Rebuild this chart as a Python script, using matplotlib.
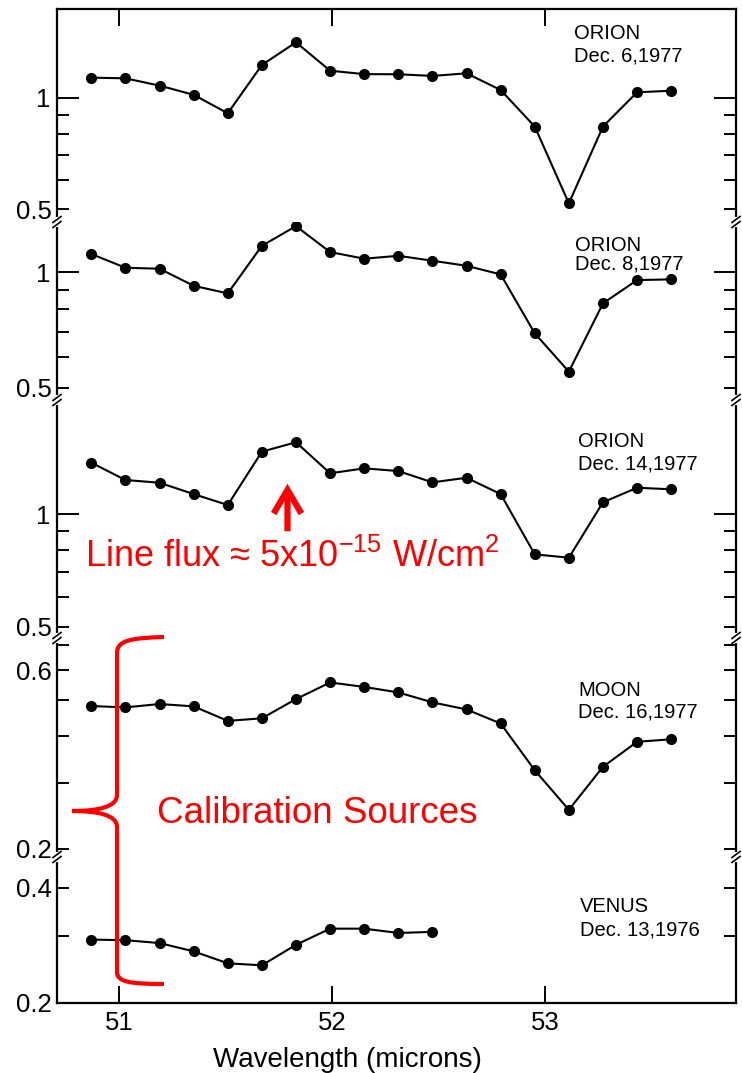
import matplotlib
matplotlib.use("Agg")
import matplotlib.pyplot as plt
from matplotlib.lines import Line2D
from matplotlib.path import Path
from matplotlib.patches import PathPatch, FancyArrowPatch
from matplotlib.transforms import Affine2D

plt.rcParams['font.family'] = ['Liberation Sans', 'DejaVu Sans']
plt.rcParams['mathtext.default'] = 'regular'

# wavelength of each grating step (microns)
wavelength = [50.87, 51.03, 51.19, 51.35, 51.51, 51.67, 51.83, 51.99, 52.15,
              52.31, 52.47, 52.63, 52.79, 52.95, 53.11, 53.27, 53.43, 53.59]

orion_dec6 = [1.135, 1.13, 1.08, 1.02, 0.909, 1.228, 1.414, 1.185, 1.16,
              1.159, 1.147, 1.166, 1.051, 0.837, 0.519, 0.837, 1.036, 1.046]
orion_dec8 = [1.114, 1.026, 1.02, 0.921, 0.88, 1.17, 1.316, 1.127, 1.083,
              1.102, 1.07, 1.038, 0.986, 0.693, 0.551, 0.829, 0.953, 0.957]
orion_dec14 = [1.375, 1.236, 1.215, 1.133, 1.059, 1.472, 1.56, 1.288, 1.328,
               1.306, 1.218, 1.253, 1.133, 0.781, 0.765, 1.077, 1.178, 1.167]
moon_dec16 = [0.481, 0.477, 0.487, 0.480, 0.439, 0.446, 0.502, 0.556, 0.541,
              0.523, 0.492, 0.471, 0.432, 0.324, 0.254, 0.331, 0.386, 0.392]
venus_dec13 = [0.293, 0.292, 0.287, 0.273, 0.254, 0.251, 0.284, 0.313, 0.313,
               0.305, 0.307]

series = [orion_dec6, orion_dec8, orion_dec14, moon_dec16, venus_dec13]
names = ['ORION', 'ORION', 'ORION', 'MOON', 'VENUS']
dates = ['Dec. 6,1977', 'Dec. 8,1977', 'Dec. 14,1977', 'Dec. 16,1977', 'Dec. 13,1976']

ylims = [(0.462, 1.74), (0.465, 1.349), (0.466, 2.025), (0.190, 0.731), (0.2, 0.482)]
minor_ticks = [[0.5, 0.6, 0.7, 0.8, 0.9]] * 3 + [[0.2, 0.3, 0.4, 0.5, 0.6, 0.7], [0.2, 0.3, 0.4]]
minor_labels = [['0.5', '', '', '', '']] * 3 + [['0.2', '', '', '', '0.6', ''], ['0.2', '', '0.4']]
xticks = [51, 52, 53]

W, H = 742, 1073
fig, axes = plt.subplots(5, 1, sharex=True, figsize=(W / 100, H / 100), dpi=100,
                         gridspec_kw={'height_ratios': [213, 178, 238, 219, 146]})
fig.subplots_adjust(left=57 / W, right=736 / W, top=1 - 9 / H, bottom=1 - 1003 / H, hspace=0)

# reference-pixel transform for annotations
T = Affine2D().scale(1 / W, -1 / H).translate(0, 1) + fig.transFigure

for i, ax in enumerate(axes):
    ax.plot(wavelength[:len(series[i])], series[i], color='black', lw=1.5,
            marker='o', markersize=7)
    ax.set_yscale('log')
    ax.set_ylim(*ylims[i])
    ax.set_xlim(50.709, 53.894)
    if i < 3:
        ax.set_yticks([1], labels=['1'])
    else:
        ax.set_yticks([])
    ax.set_yticks(minor_ticks[i], labels=minor_labels[i], minor=True)
    ax.tick_params(axis='y', which='major', direction='in', length=16, width=1.4,
                   left=True, right=True, labelsize=18.5, pad=5)
    ax.tick_params(axis='y', which='minor', direction='in', length=8.5, width=1.4,
                   left=True, right=True, labelsize=18.5, pad=4)
    for s in ['left', 'right', 'top', 'bottom']:
        ax.spines[s].set_linewidth(1.6)
    if i > 0:
        ax.spines['top'].set_visible(False)
    if i < 4:
        ax.spines['bottom'].set_visible(False)
    ax.tick_params(axis='x', which='both', direction='in', length=12, width=1.4,
                   bottom=(i == 4), top=(i == 0), labelbottom=(i == 4),
                   labelsize=18.5, pad=6)
    ax.xaxis.set_minor_locator(plt.NullLocator())

axes[4].set_xticks(xticks, labels=[str(t) for t in xticks])

# source labels
label_x = [574, 575, 578, 578, 580]
name_y = [39, 251, 447, 696, 912]
date_y = [61, 270, 469, 717, 936]
for i in range(5):
    fig.text(label_x[i], name_y[i], names[i], transform=T, fontsize=14.5, va='baseline')
    fig.text(label_x[i], date_y[i], dates[i], transform=T, fontsize=14.5, va='baseline')

fig.text(347.5, 1067, 'Wavelength (microns)', transform=T, fontsize=20,
         ha='center', va='baseline')

# axis break marks
for ax in axes[:4]:
    pos = ax.get_position()
    yb = (1 - pos.y0) * H
    for xs in [pos.x0 * W, pos.x1 * W]:
        fig.add_artist(Line2D([xs, xs], [yb - 3, yb + 3], transform=T,
                              color='white', lw=3))
        for off in (-2.5, 2.5):
            fig.add_artist(Line2D([xs - 4, xs + 4], [yb + off + 3, yb + off - 3],
                                  transform=T, color='black', lw=1.2))

# red annotations
red = '#ff0000'
fig.add_artist(FancyArrowPatch((287.5, 534), (287.5, 481), transform=T,
                               arrowstyle='->,head_length=0.85,head_width=0.5',
                               mutation_scale=20, color=red, lw=4.5,
                               capstyle='butt', joinstyle='miter'))
fig.text(85, 567, 'Line flux \u2248 5x10$^{-15}$ W/cm$^{2}$', transform=T,
         fontsize=26, color=red, va='baseline')
fig.text(157, 823, 'Calibration Sources', transform=T, fontsize=26.5, color=red,
         va='baseline')

brace = Path([(164, 637), (132, 638), (117, 640), (117, 653),
              (117, 795),
              (117, 807), (98, 811), (72, 811),
              (98, 811), (117, 815), (117, 827),
              (117, 972),
              (117, 982), (130, 984), (164, 984)],
             [Path.MOVETO, Path.CURVE4, Path.CURVE4, Path.CURVE4,
              Path.LINETO,
              Path.CURVE4, Path.CURVE4, Path.CURVE4,
              Path.CURVE4, Path.CURVE4, Path.CURVE4,
              Path.LINETO,
              Path.CURVE4, Path.CURVE4, Path.CURVE4])
fig.add_artist(PathPatch(brace, transform=T, fill=False, edgecolor=red, lw=3))

fig.savefig('out.png', dpi=100)
